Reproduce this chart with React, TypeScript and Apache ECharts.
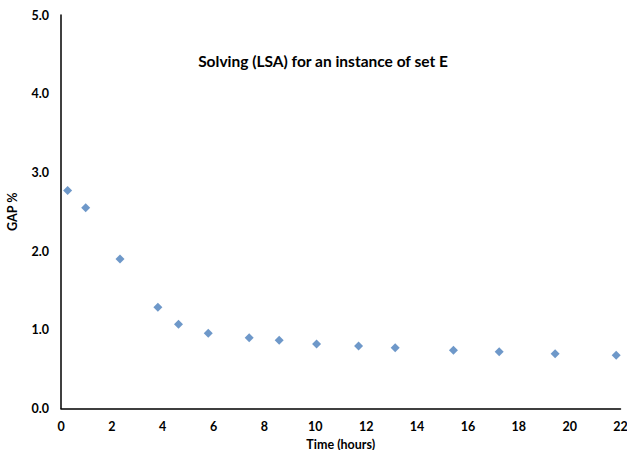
import React, { useEffect, useRef } from "react";
import * as echarts from "echarts";

const timeHours = [0.26, 0.97, 2.32, 3.81, 4.62, 5.79, 7.4, 8.58, 10.05, 11.7, 13.14, 15.43, 17.23, 19.43, 21.83];
const gapPercent = [2.77, 2.55, 1.9, 1.285, 1.07, 0.955, 0.9, 0.866, 0.82, 0.795, 0.773, 0.74, 0.722, 0.697, 0.677];

const chartTitle = "Solving (LSA) for an instance of set E";
const xTitle = "Time (hours)";
const yTitle = "GAP %";

export default function App() {
  const ref = useRef<HTMLDivElement>(null);
  useEffect(() => {
    if (!ref.current) return;
    const chart = echarts.init(ref.current, null, { renderer: "svg" });
    const font = "Lato, 'Open Sans', sans-serif";
    chart.setOption({
      animation: false,
      backgroundColor: "#ffffff",
      title: {
        text: chartTitle,
        left: 318,
        top: 48,
        textAlign: "center",
        textStyle: { fontFamily: font, fontSize: 15.5, fontWeight: "bold", color: "#000" },
      },
      grid: { left: 61, right: 6.5, top: 15, bottom: 41.5, containLabel: false, outerBoundsMode: "none" },
      xAxis: {
        type: "value",
        min: 0,
        max: 22,
        interval: 2,
        name: xTitle,
        nameLocation: "middle",
        nameGap: 29,
        nameTextStyle: { fontFamily: font, fontSize: 12.5, fontWeight: "bold", color: "#000", lineHeight: 13 },
        axisLine: { show: true, lineStyle: { color: "#000", width: 1.5 } },
        axisTick: { show: false },
        splitLine: { show: false },
        axisLabel: { fontFamily: font, fontSize: 12.5, fontWeight: "bold", color: "#000", margin: 11 },
      },
      yAxis: {
        type: "value",
        min: 0,
        max: 5,
        interval: 1,
        name: yTitle,
        nameLocation: "middle",
        nameGap: 42,
        nameRotate: 90,
        nameTextStyle: { fontFamily: font, fontSize: 12.5, fontWeight: "bold", color: "#000" },
        axisLine: { show: true, lineStyle: { color: "#000", width: 1.5 } },
        axisTick: { show: false },
        splitLine: { show: false },
        axisLabel: {
          fontFamily: font,
          fontSize: 12.5,
          fontWeight: "bold",
          color: "#000",
          margin: 12,
          formatter: (v: number) => v.toFixed(1),
        },
      },
      series: [
        {
          type: "scatter",
          symbol: "diamond",
          symbolSize: 9,
          itemStyle: { color: "#4a7ebb" },
          data: timeHours.map((t, i) => [t, gapPercent[i]]),
        },
      ],
    });
    return () => chart.dispose();
  }, []);
  return <div ref={ref} style={{ width: 627, height: 450, position: "absolute", left: 0, top: 0 }} />;
}
